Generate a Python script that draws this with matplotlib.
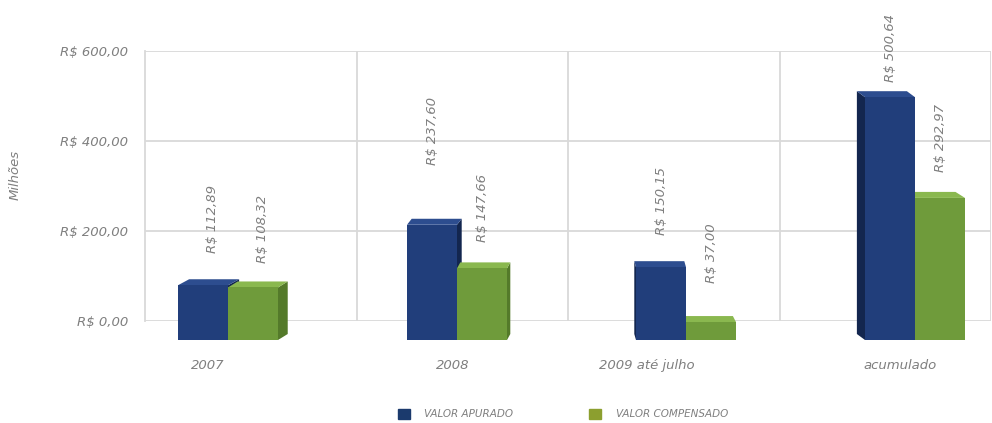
import matplotlib
matplotlib.use("Agg")
import matplotlib.pyplot as plt
from matplotlib.patches import Polygon, Patch
from matplotlib.ticker import FuncFormatter

# Valores em milhões de reais
categorias = ["2007", "2008", "2009 até julho", "acumulado"]
valor_apurado = [112.89, 237.60, 150.15, 500.64]
valor_compensado = [108.32, 147.66, 37.00, 292.97]
series_nomes = ["VALOR APURADO", "VALOR COMPENSADO"]
y_ticks = [0, 200, 400, 600]

W, H = 992, 423
CINZA = "#7f7f7f"
GRADE = "#d9d9d9"
AZUL = ("#213e7b", "#2d4d8f", "#13264f")     # frente, topo, lateral
VERDE = ("#6f9b3b", "#8ab84f", "#547a2a")
LEG_AZUL, LEG_VERDE = "#1b3a6d", "#8c9f2f"

plt.rcParams["font.family"] = ["DejaVu Sans"]
plt.rcParams["font.style"] = "italic"


def brl(v, pos=None):
    return "R$ " + f"{v:,.2f}".replace(",", "X").replace(".", ",").replace("X", ".")


fig = plt.figure(figsize=(W / 100, H / 100), dpi=100)
fig.patch.set_facecolor("white")

# parede do fundo com a grade
axw = fig.add_axes([145 / W, (H - 321) / H, (991 - 145) / W, 270 / H])
axw.set_xlim(0, 4)
axw.set_ylim(0, 600)
axw.set_yticks(y_ticks)
axw.yaxis.set_major_formatter(FuncFormatter(brl))
axw.set_xticks([1, 2, 3, 4])
axw.set_xticklabels([])
axw.grid(True, color=GRADE, lw=1.3)
axw.tick_params(length=0, pad=12, labelsize=9.5, labelcolor=CINZA)
for s in ["top", "right", "bottom"]:
    axw.spines[s].set_visible(False)
axw.spines["left"].set_color(GRADE)
axw.spines["left"].set_linewidth(1.3)
axw.set_facecolor("none")
for lbl in axw.get_yticklabels():
    lbl.set_style("italic")

fig.text(15 / W, (H - 175) / H, "Milhões", rotation=90, ha="center", va="center",
         color=CINZA, fontsize=9.5, style="italic")

# barras em primeiro plano (escala um pouco maior, efeito de perspectiva)
PX_X, PX_Y = 229.0, 0.485
X0, Y0 = 228.0, 83.0
axb = fig.add_axes([0, 0, 1, 1])
axb.set_xlim(-X0 / PX_X, (W - X0) / PX_X)
axb.set_ylim(-Y0 / PX_Y, (H - Y0) / PX_Y)
axb.axis("off")

w = 50 / PX_X
xs = list(range(len(categorias)))
b1 = axb.bar([x - w / 2 for x in xs], valor_apurado, w, color=AZUL[0], zorder=3)
b2 = axb.bar([x + w / 2 for x in xs], valor_compensado, w, color=VERDE[0], zorder=3)

dy = 6 / PX_Y
for barras, cores in ((b1, AZUL), (b2, VERDE)):
    for i, r in enumerate(barras):
        x0, x1, h = r.get_x(), r.get_x() + r.get_width(), r.get_height()
        centro_px = X0 + (x0 + x1) / 2 * PX_X
        dx = (600 - centro_px) * 0.028 / PX_X
        topo = [(x0, h), (x1, h), (x1 + dx, h + dy), (x0 + dx, h + dy)]
        xl = x1 if dx > 0 else x0
        lado = [(xl, 0), (xl, h), (xl + dx, h + dy), (xl + dx, dy)]
        axb.add_patch(Polygon(lado, closed=True, color=cores[2], zorder=2, lw=0))
        axb.add_patch(Polygon(topo, closed=True, color=cores[1], zorder=2, lw=0))

# rótulos de valor
pad_apurado = [32, 60, 32, 15]
pad_compensado = [24, 26, 39, 26]
dx_rotulo = [7, 0, 0, 0]
for barras, vals, pads in ((b1, valor_apurado, pad_apurado), (b2, valor_compensado, pad_compensado)):
    for i, (r, v) in enumerate(zip(barras, vals)):
        axb.annotate(brl(v), xy=(r.get_x() + r.get_width() / 2, v),
                     xytext=(dx_rotulo[i], pads[i] * 0.72), textcoords="offset points",
                     rotation=90, ha="center", va="bottom", color=CINZA,
                     fontsize=9.5, style="italic")

# nomes das categorias
desloc_cat = [-0.087, -0.017, -0.17, -0.066]
y_cat = (H - 365 - Y0) / PX_Y
for x, nome, d in zip(xs, categorias, desloc_cat):
    axb.text(x + d, y_cat, nome, ha="center", va="center", color=CINZA,
             fontsize=9.5, style="italic")

handles = [Patch(color=LEG_AZUL), Patch(color=LEG_VERDE)]
leg = fig.legend(handles, series_nomes, loc="center", ncol=2, frameon=False,
                 bbox_to_anchor=(563 / W, (H - 414) / H),
                 handlelength=1.15, handleheight=1.15, handletextpad=1.4,
                 columnspacing=7.3, labelcolor=CINZA, prop={"style": "italic", "size": 7.5})

fig.savefig("out.png", dpi=100, facecolor="white")
